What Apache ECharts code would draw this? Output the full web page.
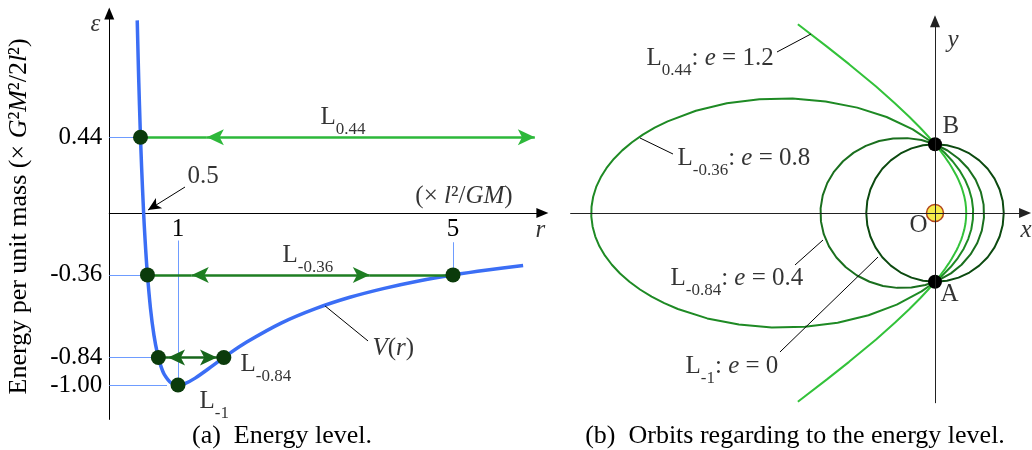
<!DOCTYPE html>
<html><head><meta charset="utf-8">
<script src="https://cdn.jsdelivr.net/npm/echarts@6/dist/echarts.min.js"></script>
<style>html,body{margin:0;padding:0;background:#fff}#c{width:1032px;height:450px}</style>
</head><body><div id="c"></div>
<script>
// ---------------- data ----------------
// (a) effective potential V(r): r in l^2/GM, V in G^2M^2/2l^2
const rValues = [0.407,0.42,0.43,0.45,0.47,0.5,0.52,0.55,0.6,0.65,0.7,0.75,0.8,0.9,1.0,1.1,1.25,1.5,1.75,2.0,2.5,3.0,3.5,4.0,4.5,5.0,5.5,6.02];
const vValues = [1.12,0.907,0.757,0.494,0.272,0,-0.148,-0.331,-0.556,-0.710,-0.816,-0.889,-0.938,-0.988,-1.0,-0.992,-0.96,-0.889,-0.816,-0.75,-0.64,-0.556,-0.49,-0.438,-0.395,-0.36,-0.331,-0.305];
const energyTicks = [0.44, -0.36, -0.84, -1.00];
const rTicks = [1, 5];
const turningR = [0.4545, 0.5556, 5.0, 0.7143, 1.6667, 1.0];
const turningE = [0.44, -0.36, -0.36, -0.84, -0.84, -1.00];
// energy level arrows
const levelEnergy = [0.44, -0.36, -0.84];
const levelStart = [0.4545, 0.5556, 0.7143];
const levelArrowLeft = [1.42, 1.20, 0.855];
const levelArrowRight = [6.19, 3.79, 1.567];
const levelEnd = [6.19, 5.0, 1.6667];
const levelNames = ['0.44', '-0.36', '-0.84', '-1'];
// (b) orbits, coordinates in units of the semi-latus rectum
const orbitCircle = [[0,1],[-0.174,0.985],[-0.342,0.940],[-0.5,0.866],[-0.643,0.766],[-0.766,0.643],[-0.866,0.5],[-0.940,0.342],[-0.985,0.174],[-1,0],[-0.985,-0.174],[-0.940,-0.342],[-0.866,-0.5],[-0.766,-0.643],[-0.643,-0.766],[-0.5,-0.866],[-0.342,-0.940],[-0.174,-0.985],[0,-1],[0.174,-0.985],[0.342,-0.940],[0.5,-0.866],[0.643,-0.766],[0.766,-0.643],[0.866,-0.5],[0.940,-0.342],[0.985,-0.174],[1,0],[0.985,0.174],[0.940,0.342],[0.866,0.5],[0.766,0.643],[0.643,0.766],[0.5,0.866],[0.342,0.940],[0.174,0.985],[0,1]];
const orbitE04 = [[0,1],[-0.197,1.061],[-0.402,1.089],[-0.609,1.084],[-0.813,1.047],[-1.006,0.977],[-1.183,0.878],[-1.338,0.753],[-1.468,0.603],[-1.567,0.436],[-1.633,0.256],[-1.664,0.068],[-1.659,-0.122],[-1.618,-0.308],[-1.542,-0.486],[-1.434,-0.648],[-1.297,-0.790],[-1.135,-0.909],[-0.952,-1.0],[-0.756,-1.061],[-0.551,-1.089],[-0.343,-1.084],[-0.140,-1.047],[0.054,-0.977],[0.231,-0.878],[0.386,-0.753],[0.516,-0.603],[0.615,-0.436],[0.681,-0.256],[0.712,-0.068],[0.707,0.122],[0.666,0.308],[0.590,0.486],[0.482,0.648],[0.345,0.790],[0.182,0.909],[0,1]];
const orbitE08 = [[0,1],[-0.323,1.216],[-0.704,1.396],[-1.131,1.533],[-1.591,1.623],[-2.071,1.664],[-2.554,1.655],[-3.028,1.595],[-3.478,1.487],[-3.889,1.333],[-4.077,1.241],[-4.249,1.140],[-4.407,1.029],[-4.549,0.911],[-4.672,0.786],[-4.777,0.655],[-4.862,0.519],[-4.928,0.379],[-4.972,0.236],[-4.996,0.091],[-4.999,-0.054],[-4.980,-0.199],[-4.941,-0.343],[-4.881,-0.484],[-4.800,-0.621],[-4.700,-0.753],[-4.581,-0.880],[-4.444,-1.0],[-4.291,-1.113],[-4.122,-1.216],[-3.938,-1.311],[-3.740,-1.396],[-3.313,-1.533],[-2.853,-1.623],[-2.374,-1.664],[-1.890,-1.655],[-1.416,-1.595],[-0.967,-1.487],[-0.556,-1.333],[-0.196,-1.140],[-0.038,-1.029],[0.104,-0.911],[0.227,-0.786],[0.332,-0.655],[0.418,-0.519],[0.483,-0.379],[0.528,-0.236],[0.551,-0.091],[0.554,0.054],[0.536,0.199],[0.496,0.343],[0.436,0.484],[0.356,0.621],[0.256,0.753],[0.137,0.880],[0,1]];
const orbitE12 = [[-1.995,2.745],[-1.572,2.420],[-1.25,2.165],[-0.857,1.839],[-0.580,1.594],[-0.375,1.401],[-0.219,1.244],[-0.097,1.113],[0,1],[0.079,0.902],[0.144,0.815],[0.198,0.737],[0.243,0.666],[0.280,0.601],[0.313,0.541],[0.340,0.485],[0.363,0.432],[0.383,0.383],[0.399,0.335],[0.425,0.245],[0.442,0.161],[0.451,0.080],[0.4545,0],[0.451,-0.080],[0.442,-0.161],[0.425,-0.245],[0.399,-0.335],[0.383,-0.383],[0.363,-0.432],[0.340,-0.485],[0.313,-0.541],[0.280,-0.601],[0.243,-0.666],[0.198,-0.737],[0.144,-0.815],[0.079,-0.902],[0,-1],[-0.097,-1.113],[-0.219,-1.244],[-0.375,-1.401],[-0.580,-1.594],[-0.857,-1.839],[-1.25,-2.165],[-1.572,-2.420],[-1.995,-2.745]];
const eccentricities = ['1.2', '0.8', '0.4', '0'];
const pointsAB = [[0,1],[0,-1]];
const focusO = [[0,0]];

// ---------------- chart ----------------
const SERIF = '"Liberation Serif", "Times New Roman", serif';
const rich = {
  m: {fontFamily: SERIF, fontSize: 25, lineHeight: 28, verticalAlign: 'top', color: '#000'},
  it: {fontFamily: SERIF, fontSize: 25, fontStyle: 'italic', lineHeight: 28, verticalAlign: 'top', color: '#000'},
  s: {fontFamily: SERIF, fontSize: 25, lineHeight: 26, verticalAlign: 'top', color: '#000'},
  sit: {fontFamily: SERIF, fontSize: 25, fontStyle: 'italic', lineHeight: 26, verticalAlign: 'top', color: '#000'},
  sub: {fontFamily: SERIF, fontSize: 17, lineHeight: 17, padding: [16, 0, 0, 0], verticalAlign: 'top', color: '#000'}
};
function lab(x, y, text, pos) {
  return {value: [x, y], label: {show: true, formatter: text, position: pos || 'right', distance: 0}};
}
const lvlColors = ['#2db83a', '#1e7e22', '#17661b'];
const arrowMarks = [];
levelEnergy.forEach((y, i) => {
  const ls = {color: lvlColors[i], width: 2.5, type: 'solid'};
  arrowMarks.push([{coord: [levelStart[i], y], symbol: 'none', lineStyle: ls}, {coord: [levelArrowLeft[i], y], symbol: 'none', lineStyle: ls}]);
  arrowMarks.push([{coord: [levelArrowLeft[i], y], symbol: 'arrow', lineStyle: ls}, {coord: [levelArrowRight[i], y], symbol: 'arrow', lineStyle: ls}]);
  if (levelEnd[i] > levelArrowRight[i]) {
    arrowMarks.push([{coord: [levelArrowRight[i], y], symbol: 'none', lineStyle: ls}, {coord: [levelEnd[i], y], symbol: 'none', lineStyle: ls}]);
  }
});
const guide = {color: '#6e9cff', width: 1, type: 'solid'};
const guideMarks = [
  [{coord: [0, energyTicks[0]]}, {coord: [turningR[0], energyTicks[0]]}],
  [{coord: [0, energyTicks[1]]}, {coord: [turningR[1], energyTicks[1]]}],
  [{coord: [0, energyTicks[2]]}, {coord: [turningR[3], energyTicks[2]]}],
  [{coord: [0, energyTicks[3]]}, {coord: [0.84, energyTicks[3]]}],
  [{coord: [rTicks[0], -0.16]}, {coord: [rTicks[0], energyTicks[3]]}],
  [{coord: [rTicks[1], -0.17]}, {coord: [rTicks[1], energyTicks[1]]}]
];
const leaderL = {color: '#000', width: 1, type: 'solid'};
const clear = {color: 'rgba(0,0,0,0)'};

const axisFont = {fontFamily: SERIF, fontSize: 25, color: '#000'};
const option = {
  animation: false,
  grid: [
    {left: 109.25, top: 13.48, width: 433.125, height: 405.92},
    {left: 570.625, top: 21.19, width: 454.44, height: 381.56}
  ],
  xAxis: [
    {gridIndex: 0, type: 'value', min: 0, max: 6.3, position: 'bottom', offset: -206.4,
      axisLine: {onZero: false, lineStyle: {color: '#000', width: 1}, symbol: ['none', 'triangle'], symbolSize: [10, 12]},
      axisTick: {show: false}, splitLine: {show: false},
      axisLabel: {customValues: rTicks, formatter: v => String(v), margin: 4, ...axisFont}},
    {gridIndex: 1, type: 'value', min: -5.3, max: 1.31, z: 10,
      axisLine: {onZero: true, lineStyle: {color: '#222', width: 1}, symbol: ['none', 'triangle'], symbolSize: [10, 12]},
      axisTick: {show: false}, splitLine: {show: false}, axisLabel: {show: false}}
  ],
  yAxis: [
    {gridIndex: 0, type: 'value', min: -1.2, max: 1.16,
      axisLine: {onZero: false, lineStyle: {color: '#000', width: 1}, symbol: ['none', 'triangle'], symbolSize: [10, 12]},
      axisTick: {show: false}, splitLine: {show: false},
      axisLabel: {customValues: energyTicks, formatter: v => v.toFixed(2), margin: 7, ...axisFont},
      name: '{s|Energy per unit mass (× }{sit|G}{s|²}{sit|M}{s|²}{s|/2}{sit|l}{s|²}{s|)}',
      nameLocation: 'middle', nameRotate: 90, nameGap: 75,
      nameTextStyle: {rich: Object.assign({}, rich, {
        s: {fontFamily: SERIF, fontSize: 26, lineHeight: 28, verticalAlign: 'top', color: '#000'},
        sit: {fontFamily: SERIF, fontSize: 26, fontStyle: 'italic', lineHeight: 28, verticalAlign: 'top', color: '#000'}
      }), fontFamily: SERIF, fontSize: 26}},
    {gridIndex: 1, type: 'value', min: -2.76, max: 2.79, z: 10,
      axisLine: {onZero: true, lineStyle: {color: '#222', width: 1}, symbol: ['none', 'triangle'], symbolSize: [10, 12]},
      axisTick: {show: false}, splitLine: {show: false}, axisLabel: {show: false}}
  ],
  series: [
    // guide lines
    {type: 'line', xAxisIndex: 0, yAxisIndex: 0, data: [], z: 1, silent: true,
      markLine: {silent: true, symbol: ['none', 'none'], label: {show: false}, lineStyle: guide, data: guideMarks, animation: false}},
    // V(r)
    {type: 'line', xAxisIndex: 0, yAxisIndex: 0, z: 2, smooth: 0.3, showSymbol: false, silent: true,
      data: rValues.map((r, i) => [r, vValues[i]]),
      lineStyle: {color: '#3b6ef5', width: 3.5}},
    // energy level arrows + leaders
    {type: 'line', xAxisIndex: 0, yAxisIndex: 0, data: [], z: 3, silent: true,
      markLine: {silent: true, symbol: ['none', 'none'], symbolSize: [12, 17], label: {show: false}, animation: false,
        data: arrowMarks.concat([
          [{coord: [1.102, 0.151], symbol: 'none', lineStyle: leaderL}, {coord: [0.564, 0.017], symbol: 'arrow', symbolSize: [9, 13], lineStyle: leaderL}],
          [{coord: [3.138, -0.54], symbol: 'none', lineStyle: leaderL}, {coord: [3.764, -0.744], symbol: 'none', lineStyle: leaderL}]
        ])}},
    // turning points
    {type: 'scatter', xAxisIndex: 0, yAxisIndex: 0, z: 5, silent: true, symbolSize: 15,
      itemStyle: {color: '#0b3b0b', opacity: 1}, data: turningR.map((r, i) => [r, turningE[i]])},
    // left labels
    {type: 'scatter', xAxisIndex: 0, yAxisIndex: 0, z: 6, silent: true, clip: false, symbolSize: 1,
      itemStyle: clear, label: {show: true, rich: rich},
      data: [
        lab(3.065, 0.548, '{m|L}{sub|' + levelNames[0] + '}'),
        lab(2.512, -0.255, '{m|L}{sub|' + levelNames[1] + '}'),
        lab(1.902, -0.888, '{m|L}{sub|' + levelNames[2] + '}'),
        lab(1.305, -1.103, '{m|L}{sub|' + levelNames[3] + '}'),
        lab(3.82, -0.797, '{it|V}{m|(}{it|r}{m|)}'),
        lab(1.13, 0.209, '{s|0.5}'),
        lab(4.445, 0.093, '{s|(× }{sit|l}{s|²/}{sit|GM}{s|)}'),
        lab(6.193, -0.11, '{it|r}'),
        lab(-0.28, 1.087, '{it|ε}')
      ]},
    // orbits
    {type: 'line', xAxisIndex: 1, yAxisIndex: 1, z: 2, showSymbol: false, silent: true,
      data: orbitE08, lineStyle: {color: '#1e8a24', width: 2}},
    {type: 'line', xAxisIndex: 1, yAxisIndex: 1, z: 2, showSymbol: false, silent: true,
      data: orbitE04, lineStyle: {color: '#1a6f1e', width: 2}},
    {type: 'line', xAxisIndex: 1, yAxisIndex: 1, z: 2, showSymbol: false, silent: true,
      data: orbitCircle, lineStyle: {color: '#0c4a10', width: 2}},
    {type: 'line', xAxisIndex: 1, yAxisIndex: 1, z: 2, showSymbol: false, silent: true,
      data: orbitE12, lineStyle: {color: '#33c23a', width: 2},
      markLine: {silent: true, symbol: ['none', 'none'], label: {show: false}, lineStyle: leaderL, animation: false,
        data: [
          [{coord: [-2.298, 2.342]}, {coord: [-1.804, 2.604]}],
          [{coord: [-4.291, 1.091]}, {coord: [-3.811, 0.858]}],
          [{coord: [-2.036, -0.756]}, {coord: [-1.629, -0.393]}],
          [{coord: [-2.255, -2.022]}, {coord: [-0.829, -0.64]}]
        ]}},
    // A, B
    {type: 'scatter', xAxisIndex: 1, yAxisIndex: 1, z: 5, silent: true, symbolSize: 14,
      itemStyle: {color: '#000', opacity: 1}, data: pointsAB},
    // O
    {type: 'scatter', xAxisIndex: 1, yAxisIndex: 1, z: 1, silent: true, symbolSize: 17,
      itemStyle: {color: '#f6ec4a', borderColor: '#b3461c', borderWidth: 1.5, opacity: 1}, data: focusO},
    // right labels
    {type: 'scatter', xAxisIndex: 1, yAxisIndex: 1, z: 6, silent: true, clip: false, symbolSize: 1,
      itemStyle: clear, label: {show: true, rich: rich},
      data: [
        lab(-4.204, 2.228, '{m|L}{sub|' + levelNames[0] + '}{m|: }{it|e}{m| = ' + eccentricities[0] + '}'),
        lab(-3.753, 0.774, '{m|L}{sub|' + levelNames[1] + '}{m|: }{it|e}{m| = ' + eccentricities[1] + '}'),
        lab(-3.855, -0.972, '{m|L}{sub|' + levelNames[2] + '}{m|: }{it|e}{m| = ' + eccentricities[2] + '}'),
        lab(-3.636, -2.252, '{m|L}{sub|' + levelNames[3] + '}{m|: }{it|e}{m| = ' + eccentricities[3] + '}'),
        lab(0.102, 1.236, '{m|B}'),
        lab(0.073, -1.207, '{m|A}'),
        lab(-0.102, -0.204, '{m|O}', 'left'),
        lab(0.175, 2.487, '{it|y}'),
        lab(1.236, -0.276, '{it|x}')
      ]}
  ],
  graphic: [
    {type: 'text', x: 282, y: 436, silent: true,
      style: {text: '(a)  Energy level.', font: '26px ' + SERIF, fill: '#000', align: 'center', verticalAlign: 'middle'}},
    {type: 'text', x: 795, y: 436, silent: true,
      style: {text: '(b)  Orbits regarding to the energy level.', font: '26px ' + SERIF, fill: '#000', align: 'center', verticalAlign: 'middle'}}
  ]
};
const chart = echarts.init(document.getElementById('c'));
chart.setOption(option);
</script>
</body></html>
